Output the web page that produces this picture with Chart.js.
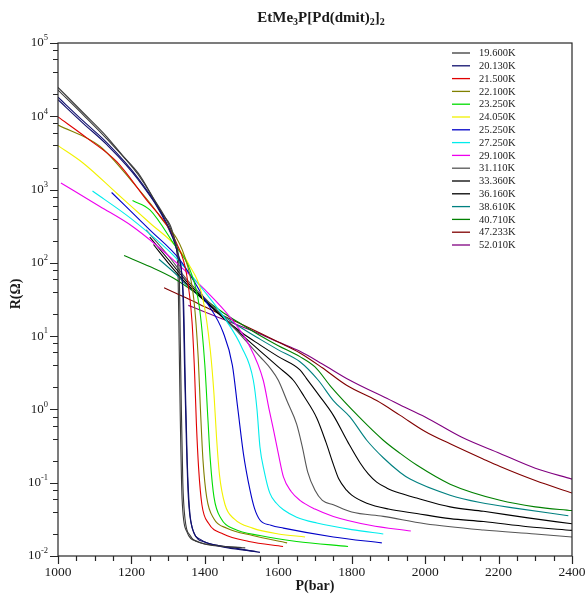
<!DOCTYPE html>
<html>
<head>
<meta charset="utf-8">
<script src="https://cdn.jsdelivr.net/npm/chart.js@4"></script>
<style>
  html, body { margin: 0; padding: 0; background: #fff; }
  canvas { display: block; }
</style>
</head>
<body>
<canvas id="rp-chart" width="588" height="595"></canvas>
<script>
// pressure (bar) / resistance (ohm) sweeps, one pair per temperature
const p_19600 = [1000, 1070, 1133, 1175, 1219, 1260, 1300, 1321, 1330, 1333, 1336, 1340, 1346, 1360, 1390, 1450, 1510]
const r_19600 = [24800, 11000, 5250, 2950, 1660, 760, 347, 186, 79, 10, 1, 0.1, 0.032, 0.019, 0.015, 0.0135, 0.0129]
// return sweep at 19.6 K
const p_19600b = [1000, 1070, 1133, 1219, 1280, 1318, 1327, 1330, 1333, 1338, 1350, 1380, 1440, 1500]
const r_19600b = [22800, 10300, 4900, 1580, 500, 200, 70, 8, 0.8, 0.06, 0.022, 0.0158, 0.0138, 0.013]

const p_20130 = [1000, 1070, 1133, 1219, 1300, 1325, 1340, 1345, 1350, 1355, 1365, 1390, 1430, 1490, 1550]
const r_20130 = [18200, 8500, 4370, 1410, 316, 141, 40, 3.2, 0.32, 0.063, 0.025, 0.0166, 0.0141, 0.0126, 0.0112]
// return sweep at 20.13 K
const p_20130b = [1000, 1070, 1133, 1219, 1300, 1328, 1342, 1347, 1352, 1358, 1370, 1400, 1460, 1540]
const r_20130b = [16800, 7900, 4100, 1350, 300, 120, 30, 2.0, 0.2, 0.045, 0.021, 0.0155, 0.013, 0.0115]

const p_21500 = [1000, 1080, 1160, 1241, 1300, 1323, 1350, 1365, 1372, 1377, 1383, 1392, 1410, 1450, 1520, 1613]
const r_21500 = [9800, 5000, 2400, 724, 309, 186, 71, 15.8, 3.2, 0.63, 0.158, 0.05, 0.028, 0.02, 0.0158, 0.0135]

const p_22100 = [1000, 1114, 1205, 1278, 1351, 1370, 1382, 1388, 1395, 1405, 1425, 1460, 1530, 1624]
const r_22100 = [7600, 3900, 1230, 427, 98, 31.6, 5.0, 1.0, 0.2, 0.063, 0.032, 0.024, 0.019, 0.0151]

const p_23250 = [1203, 1251, 1314, 1360, 1385, 1400, 1408, 1415, 1425, 1445, 1480, 1550, 1650, 1790]
const r_23250 = [708, 525, 186, 79, 25, 4.0, 0.79, 0.2, 0.063, 0.032, 0.0234, 0.019, 0.0158, 0.0135]

const p_24050 = [1000, 1069, 1160, 1251, 1323, 1355, 1395, 1415, 1425, 1432, 1440, 1455, 1480, 1530, 1600, 1673]
const r_24050 = [3980, 2290, 891, 347, 166, 98, 31.6, 6.3, 1.58, 0.4, 0.126, 0.05, 0.032, 0.024, 0.02, 0.0182]

const p_25250 = [1146, 1250, 1332, 1400, 1450, 1475, 1490, 1505, 1523, 1535, 1550, 1580, 1614, 1750, 1882]
const r_25250 = [912, 282, 110, 31.6, 11.2, 4.0, 1.0, 0.25, 0.079, 0.045, 0.031, 0.0263, 0.024, 0.0182, 0.0151]

const p_27250 = [1094, 1200, 1319, 1400, 1460, 1500, 1532, 1542, 1550, 1562, 1577, 1595, 1614, 1650, 1705, 1800, 1886]
const r_27250 = [955, 398, 120, 40, 15.8, 7.1, 2.5, 1.0, 0.31, 0.141, 0.072, 0.0525, 0.0427, 0.0339, 0.0282, 0.0229, 0.02]

const p_29100 = [1008, 1114, 1205, 1314, 1400, 1470, 1520, 1559, 1575, 1587, 1600, 1614, 1635, 1659, 1700, 1750, 1850, 1961]
const r_29100 = [1230, 589, 309, 110, 43, 17.8, 7.6, 2.5, 1.0, 0.525, 0.251, 0.12, 0.076, 0.0575, 0.0437, 0.0347, 0.0263, 0.0219]

const p_31110 = [1240, 1300, 1350, 1400, 1450, 1500, 1550, 1580, 1600, 1625, 1650, 1665, 1680, 1700, 1720, 1750, 1800, 1886, 2000, 2159, 2300, 2400]
const r_31110 = [282, 126, 60, 33, 18.6, 10, 5.25, 3.55, 2.5, 1.26, 0.63, 0.316, 0.141, 0.079, 0.0575, 0.05, 0.0398, 0.0347, 0.0275, 0.0226, 0.02, 0.0182]

const p_33360 = [1250, 1300, 1350, 1400, 1450, 1500, 1550, 1600, 1641, 1670, 1705, 1730, 1750, 1765, 1786, 1800, 1841, 1900, 1977, 2068, 2159, 2280, 2400]
const r_33360 = [224, 112, 56, 31.6, 17.8, 10.5, 6.3, 3.8, 2.5, 1.51, 0.76, 0.355, 0.178, 0.112, 0.079, 0.0676, 0.0525, 0.0437, 0.038, 0.0324, 0.0295, 0.0251, 0.0224]

const p_36160 = [1260, 1300, 1350, 1400, 1450, 1500, 1550, 1600, 1659, 1677, 1710, 1750, 1790, 1823, 1845, 1868, 1895, 1930, 1977, 2068, 2159, 2280, 2400]
const r_36160 = [178, 100, 52, 30.2, 17.8, 11.2, 7.6, 5.25, 3.47, 2.63, 1.58, 0.83, 0.355, 0.186, 0.132, 0.102, 0.085, 0.0724, 0.0617, 0.0468, 0.0407, 0.0331, 0.0275]

const p_38610 = [1275, 1320, 1350, 1400, 1450, 1500, 1550, 1600, 1659, 1709, 1750, 1795, 1841, 1886, 1932, 1959, 2068, 2150, 2249, 2390]
const r_38610 = [112, 71, 50, 30.2, 19, 12.9, 9.1, 6.5, 4.47, 2.5, 1.32, 0.79, 0.38, 0.219, 0.138, 0.112, 0.0676, 0.0537, 0.0447, 0.0355]

const p_40710 = [1180, 1250, 1314, 1400, 1450, 1500, 1550, 1600, 1659, 1700, 1745, 1820, 1886, 1932, 1977, 2068, 2204, 2300, 2400]
const r_40710 = [126, 89, 62, 31.6, 20.9, 14.5, 10.2, 7.4, 5.25, 3.8, 2.0, 0.79, 0.38, 0.251, 0.174, 0.0955, 0.0575, 0.0468, 0.0417]

const p_47233 = [1289, 1350, 1400, 1450, 1500, 1550, 1600, 1659, 1720, 1786, 1868, 1932, 2000, 2068, 2159, 2204, 2300, 2400]
const r_47233 = [45.7, 33.1, 25.1, 19, 14.5, 11, 8.3, 5.9, 3.7, 2.14, 1.32, 0.83, 0.5, 0.339, 0.209, 0.166, 0.107, 0.0724]

const p_52010 = [1355, 1400, 1450, 1500, 1550, 1600, 1659, 1720, 1795, 1904, 1932, 2000, 2100, 2204, 2300, 2400]
const r_52010 = [26.3, 21.4, 17, 13.5, 10.7, 8.3, 6.2, 4.17, 2.5, 1.35, 1.15, 0.79, 0.417, 0.251, 0.158, 0.112]

const tempLabels = ['19.600K', '20.130K', '21.500K', '22.100K', '23.250K', '24.050K', '25.250K', '27.250K',
    '29.100K', '31.110K', '33.360K', '36.160K', '38.610K', '40.710K', '47.233K', '52.010K']
const pressures = [p_19600, p_20130, p_21500, p_22100, p_23250, p_24050, p_25250, p_27250,
    p_29100, p_31110, p_33360, p_36160, p_38610, p_40710, p_47233, p_52010]
const resistances = [r_19600, r_20130, r_21500, r_22100, r_23250, r_24050, r_25250, r_27250,
    r_29100, r_31110, r_33360, r_36160, r_38610, r_40710, r_47233, r_52010]
const lineColors = ['#3a3a3a', '#10106e', '#e00000', '#808000', '#00dc00', '#f2f200', '#0000c8', '#00ecec',
    '#ee00ee', '#555555', '#000000', '#000000', '#008080', '#008000', '#800000', '#800080']

// second sweeps: [series index, pressures, resistances]
const returnSweeps = [[0, p_19600b, r_19600b], [1, p_20130b, r_20130b]]

const xTickLabels = [1000, 1200, 1400, 1600, 1800, 2000, 2200, 2400]
const yDecades = [-2, -1, 0, 1, 2, 3, 4, 5]

const serif = '"Liberation Serif", "Times New Roman", serif'

const makeLine = (label, ps, rs, color) => ({
    label: label,
    data: ps.map((p, j) => ({ x: p, y: rs[j] })),
    borderColor: color,
    backgroundColor: color,
    showLine: true,
    borderWidth: 1.1,
    pointRadius: 0,
    cubicInterpolationMode: 'monotone'
})

const datasets = tempLabels.map((label, i) => makeLine(label, pressures[i], resistances[i], lineColors[i]))
returnSweeps.forEach(([i, ps, rs]) => datasets.push(makeLine(tempLabels[i], ps, rs, lineColors[i])))

// width of runs of [text, isScript] pieces
const richWidth = (ctx, parts, size, smallSize, weight) => {
    let w = 0
    parts.forEach(([t, small]) => {
        ctx.font = `${weight} ${small ? smallSize : size}px ${serif}`
        w += ctx.measureText(t).width
    })
    return w
}

const drawRun = (ctx, parts, xLeft, y, size, smallSize, shift, weight) => {
    let cx = xLeft
    parts.forEach(([t, small]) => {
        ctx.font = `${weight} ${small ? smallSize : size}px ${serif}`
        ctx.fillText(t, cx, small ? y + shift : y)
        cx += ctx.measureText(t).width
    })
}

const framePlugin = {
    id: 'frame',
    afterDraw(chart) {
        const { ctx, chartArea: a, scales: { x, y } } = chart
        ctx.save()
        ctx.strokeStyle = '#262626'
        ctx.fillStyle = '#1a1a1a'
        ctx.lineWidth = 1.2

        // plot box
        ctx.strokeRect(a.left, a.top, a.right - a.left, a.bottom - a.top)

        // x ticks every 50 bar, labelled every 200
        ctx.beginPath()
        for (let v = 1000; v <= 2400; v += 50) {
            const px = Math.round(x.getPixelForValue(v)) + 0.5
            const len = v % 200 === 0 ? 8 : 5
            ctx.moveTo(px, a.bottom)
            ctx.lineTo(px, a.bottom + len)
        }
        // y ticks: decades plus 2,4,6,8
        yDecades.forEach(e => {
            const py = Math.round(y.getPixelForValue(Math.pow(10, e))) + 0.5
            ctx.moveTo(a.left, py)
            ctx.lineTo(a.left - 8, py)
            if (e < 5) {
                [2, 4, 6, 8].forEach(m => {
                    const pm = Math.round(y.getPixelForValue(m * Math.pow(10, e))) + 0.5
                    ctx.moveTo(a.left, pm)
                    ctx.lineTo(a.left - 5, pm)
                })
            }
        })
        ctx.stroke()

        ctx.textBaseline = 'middle'
        ctx.textAlign = 'center'
        ctx.font = `13.5px ${serif}`
        xTickLabels.forEach(v => {
            ctx.fillText(String(v), x.getPixelForValue(v), a.bottom + 16)
        })

        ctx.textAlign = 'left'
        yDecades.forEach(e => {
            const parts = [['10', false], [String(e), true]]
            const w = richWidth(ctx, parts, 13, 8.5, '')
            drawRun(ctx, parts, 48 - w, y.getPixelForValue(Math.pow(10, e)), 13, 8.5, -5, '')
        })

        // axis titles
        ctx.textAlign = 'center'
        ctx.font = `bold 14px ${serif}`
        ctx.fillText('P(bar)', (a.left + a.right) / 2, a.bottom + 30)
        ctx.save()
        ctx.translate(16, 294)
        ctx.rotate(-Math.PI / 2)
        ctx.fillText('R(\u03a9)', 0, 0)
        ctx.restore()

        // chart title with subscripts
        ctx.textAlign = 'left'
        const title = [['EtMe', false], ['3', true], ['P[Pd(dmit)', false], ['2', true], [']', false], ['2', true]]
        const tw = richWidth(ctx, title, 15, 10, 'bold')
        drawRun(ctx, title, (a.left + a.right) / 2 + 6 - tw / 2, 18, 15, 10, 4, 'bold')

        // legend inside the plot, top right
        ctx.font = `10.5px ${serif}`
        tempLabels.forEach((label, i) => {
            const ly = 53 + i * 12.8
            ctx.strokeStyle = lineColors[i]
            ctx.lineWidth = 1.3
            ctx.beginPath()
            ctx.moveTo(452, ly)
            ctx.lineTo(470, ly)
            ctx.stroke()
            ctx.fillStyle = '#222'
            ctx.fillText(label, 479, ly + 0.5)
        })
        ctx.restore()
    }
}

const ctx = document.getElementById('rp-chart')

new Chart(ctx, {
    type: 'scatter',
    data: { datasets: datasets },
    options: {
        responsive: false,
        animation: false,
        layout: { padding: { top: 43, right: 16, left: 0, bottom: 0 } },
        plugins: {
            legend: { display: false },
            tooltip: { enabled: false },
            title: { display: false }
        },
        scales: {
            x: {
                type: 'linear',
                min: 1000,
                max: 2400,
                afterFit: (s) => { s.height = 39 },
                ticks: { display: false },
                grid: { display: false },
                border: { display: false }
            },
            y: {
                type: 'logarithmic',
                min: 0.01,
                max: 100000,
                afterFit: (s) => { s.width = 58 },
                ticks: { display: false },
                grid: { display: false },
                border: { display: false }
            }
        }
    },
    plugins: [framePlugin]
})
</script>
</body>
</html>
